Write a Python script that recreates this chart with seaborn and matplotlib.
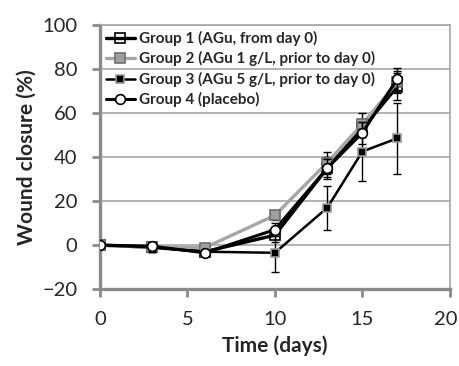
import matplotlib
matplotlib.use("Agg")
import matplotlib.pyplot as plt
import matplotlib.transforms as mtransforms
import seaborn as sns

# days of measurement
days = [0, 3, 6, 10, 13, 15, 17]

# wound closure (%) per group, with error bars
g1 = [0, -1, -3, 4.5, 35, 53, 72]
g1_err = [0, 2, 1, 3, 5, 4, 6]
g2 = [0, -1, -1.2, 13.5, 37.5, 55, 74]
g2_err = [0, 2, 1, 2, 5, 5, 5]
g3 = [0, -1, -3, -3.5, 17, 42.5, 48.5]
g3_err = [0, 2, 1, 8.5, 10, 13.5, 16]
g4 = [0, -0.5, -3.5, 7, 35, 51, 75.5]
g4_err = [0, 2, 1, 3, 4, 5, 5]

labels = [
    "Group 1 (AGu, from day 0)",
    "Group 2 (AGu 1 g/L, prior to day 0)",
    "Group 3 (AGu 5 g/L, prior to day 0)",
    "Group 4 (placebo)",
]

sns.set_style("white")
plt.rcParams["font.family"] = ["Lato", "DejaVu Sans"]

fig = plt.figure(figsize=(4.6, 3.66), dpi=100)
ax = fig.add_axes([0.217, 0.21, 0.761, 0.722])

series = [
    # values, errors, line color, width, marker, size, face, edge
    (g1, g1_err, "black", 2.4, "s", 6.5, "none", "black"),
    (g2, g2_err, "#a6a6a6", 2.4, "s", 6.5, "#a0a0a0", "#6e6e6e"),
    (g3, g3_err, "black", 1.8, "s", 5.5, "black", "#9a9a9a"),
    (g4, g4_err, "black", 2.2, "o", 7, "white", "black"),
]

for i, (vals, errs, col, lw, mk, ms, fc, ec) in enumerate(series):
    ax.errorbar(days, vals, yerr=errs, fmt="none", ecolor="black",
                elinewidth=1, capsize=3, capthick=1, zorder=2 + i)
    sns.lineplot(x=days, y=vals, ax=ax, color=col, linewidth=lw,
                 marker=mk, markersize=ms, markerfacecolor=fc,
                 markeredgecolor=ec, markeredgewidth=1.2,
                 label=labels[i], zorder=3 + i)

ax.set_xlim(0, 20)
ax.set_ylim(-20, 100)
ax.set_xticks([0, 5, 10, 15, 20])
ax.set_yticks([-20, 0, 20, 40, 60, 80, 100])
ax.yaxis.grid(True, color="#a6a6a6", linewidth=1.2)
ax.set_axisbelow(True)

for side in ["left", "bottom"]:
    ax.spines[side].set_color("#8a8a8a")
    ax.spines[side].set_linewidth(2.4)
for side in ["top", "right"]:
    ax.spines[side].set_color("#a6a6a6")
    ax.spines[side].set_linewidth(1.2)

ax.tick_params(axis="both", which="major", direction="out", length=6,
               width=2, color="#8a8a8a", labelsize=14.5, pad=10,
               left=True, bottom=True)

# keep the last x label inside the figure
last = ax.get_xticklabels()[-1]
last.set_transform(last.get_transform() +
                   mtransforms.ScaledTranslation(-4 / 100, 0, fig.dpi_scale_trans))

ax.set_xlabel("Time (days)", fontsize=15, fontweight="bold", labelpad=5)
ax.set_ylabel("Wound closure (%)", fontsize=15, fontweight="bold", labelpad=4)

leg = ax.legend(loc="upper left", bbox_to_anchor=(0.0, 1.0), frameon=False,
                prop={"size": 11, "weight": "bold"}, handlelength=1.9,
                handletextpad=0.25, labelspacing=0.35, borderaxespad=0.0)

fig.savefig("out.png", dpi=100)
